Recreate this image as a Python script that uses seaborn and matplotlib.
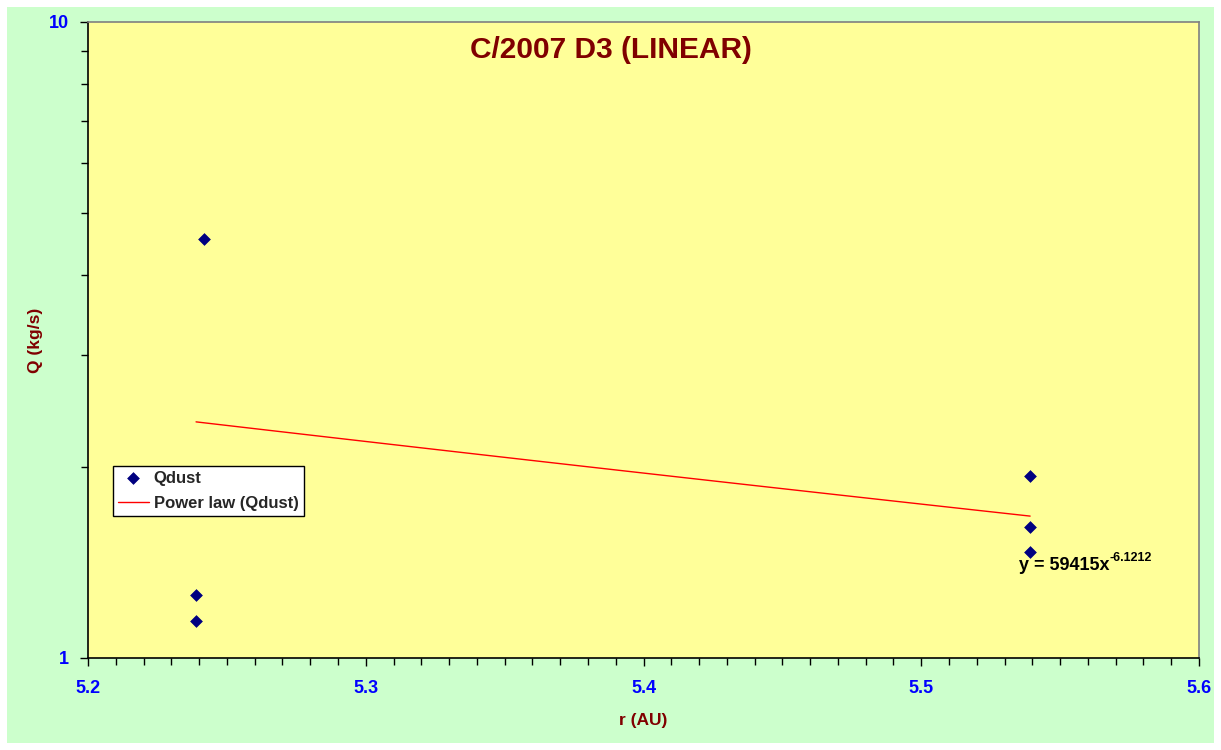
import numpy as np
import pandas as pd
import matplotlib.pyplot as plt
import seaborn as sns
from matplotlib.patches import Rectangle
from matplotlib.ticker import LogLocator, MultipleLocator, FixedLocator, NullFormatter

# observations of C/2007 D3 (LINEAR)
r_au = [5.2418, 5.2389, 5.2389, 5.5392, 5.5392, 5.5392]
q_dust = [4.56, 1.256, 1.143, 1.932, 1.607, 1.468]

# Excel power-law trendline: y = a * x^b
fit_a = 59415
fit_b = -6.1212

df = pd.DataFrame({"r": r_au, "Q": q_dust})
fit_x = np.linspace(min(r_au), max(r_au), 50)
fit_df = pd.DataFrame({"r": fit_x, "Q": fit_a * fit_x ** fit_b})

sns.set_style("ticks")
plt.rcParams['font.family'] = ['Liberation Sans', 'DejaVu Sans']

fig = plt.figure(figsize=(12.21, 7.5), dpi=100, facecolor="white")
bg = Rectangle((7 / 1221, 7 / 750), 1207 / 1221, 736 / 750,
               transform=fig.transFigure, facecolor="#CCFFCC",
               edgecolor="none", zorder=-10)
fig.add_artist(bg)
ax = fig.add_axes([88 / 1221, 92 / 750, 1111 / 1221, 636 / 750])
ax.set_facecolor("#FFFF99")

sns.lineplot(data=fit_df, x="r", y="Q", ax=ax, color="red", linewidth=1,
             label="Power law (Qdust)")
sns.scatterplot(data=df, x="r", y="Q", ax=ax, marker="D", s=36, color="#000080",
                edgecolor="#000080", label="Qdust", zorder=3)

ax.set_yscale("log")
ax.set_xlim(5.2, 5.6)
ax.set_ylim(1, 10)
ax.xaxis.set_major_locator(FixedLocator([5.2, 5.3, 5.4, 5.5, 5.6]))
ax.xaxis.set_minor_locator(MultipleLocator(0.01))
ax.set_xticklabels(["5.2", "5.3", "5.4", "5.5", "5.6"])
ax.yaxis.set_major_locator(FixedLocator([1, 10]))
ax.set_yticklabels(["1", "10"])
ax.yaxis.set_minor_locator(LogLocator(base=10, subs=np.arange(2, 10)))
ax.yaxis.set_minor_formatter(NullFormatter())

ax.tick_params(axis="both", which="major", length=6, width=1, color="black",
               labelcolor="#0000FF", labelsize=13)
ax.tick_params(axis="both", which="minor", length=5, width=1, color="black")
ax.tick_params(axis="x", which="major", pad=10)
ax.tick_params(axis="y", which="major", pad=8)
for lab in ax.get_xticklabels() + ax.get_yticklabels():
    lab.set_fontweight("bold")

for side in ["left", "bottom"]:
    ax.spines[side].set_color("black")
    ax.spines[side].set_linewidth(1.2)
for side in ["top", "right"]:
    ax.spines[side].set_color("#808080")
    ax.spines[side].set_linewidth(1.2)

ax.set_xlabel("r (AU)", color="#800000", fontsize=12.5, fontweight="bold", labelpad=11)
ax.set_ylabel("Q (kg/s)", color="#800000", fontsize=12.5, fontweight="bold", labelpad=4)

fig.text(0.5, 1 - 50 / 750, "C/2007 D3 (LINEAR)", ha="center", va="center",
         color="#800000", fontsize=21.5, fontweight="bold")

# trendline equation with superscript exponent
eq = ax.text(0.838, 0.146, "y = 59415x", transform=ax.transAxes, ha="left",
             va="center", fontsize=13, fontweight="bold", color="black")
ax.annotate("-6.1212", xy=(1, 0.55), xycoords=eq, xytext=(0, 0),
            textcoords="offset points", ha="left", va="bottom",
            fontsize=9, fontweight="bold", color="black")

handles, labels = ax.get_legend_handles_labels()
order = [labels.index("Qdust"), labels.index("Power law (Qdust)")]
leg = ax.legend([handles[i] for i in order], [labels[i] for i in order],
                loc="lower left", bbox_to_anchor=(0.0225, 0.223), borderaxespad=0,
                frameon=True, fancybox=False, framealpha=1, edgecolor="black",
                facecolor="white", prop={"weight": "bold", "size": 12},
                handlelength=1.85, handletextpad=0.3, borderpad=0.3,
                labelspacing=0.62)
leg.get_frame().set_linewidth(1)

fig.savefig("out.png", dpi=100, facecolor="white")
